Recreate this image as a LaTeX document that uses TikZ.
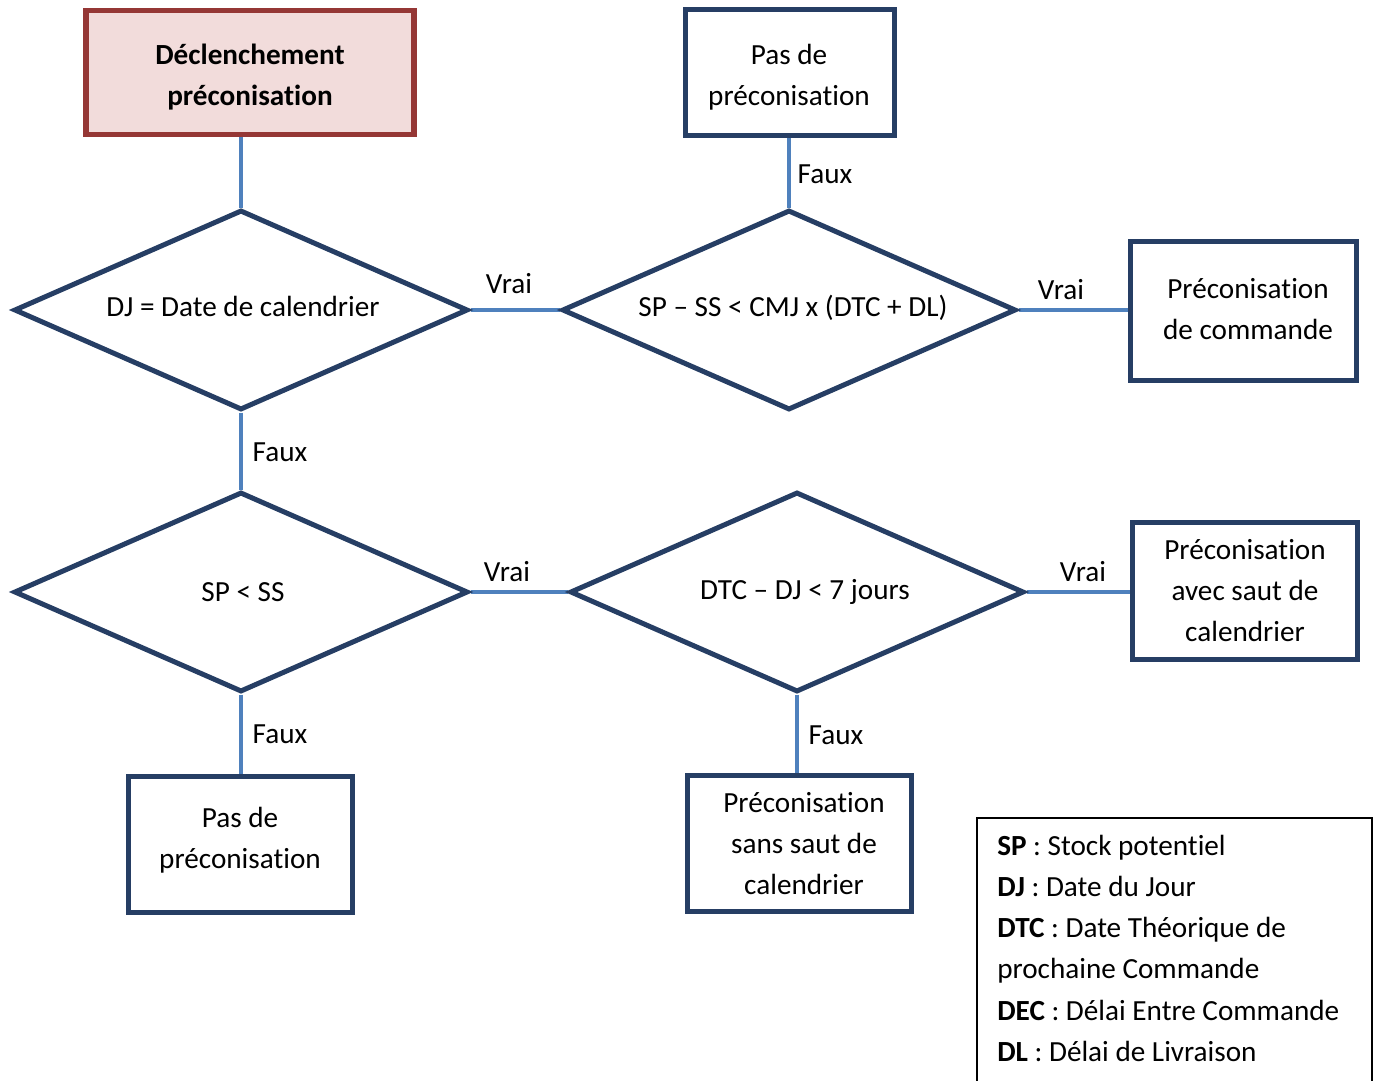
\documentclass[tikz,border=0pt]{standalone}
\usepackage{fontspec}
\setmainfont[Ligatures=NoCommon]{Carlito}
\usetikzlibrary{shapes.geometric,backgrounds}
\definecolor{navy}{RGB}{38,62,100}
\definecolor{linkblue}{RGB}{79,129,189}
\definecolor{startred}{RGB}{149,55,53}
\definecolor{startfill}{RGB}{242,220,219}
\tikzset{
  dims/.style 2 args={minimum width=#1*0.75pt, minimum height=#2*0.75pt},
  box/.style={rectangle, draw=navy, line width=3.75pt},
  startbox/.style={rectangle, draw=startred, fill=startfill, line width=3.9pt},
  decision/.style={diamond, draw=navy, line width=3.75pt, aspect=2.27},
  boxtext/.style={align=center},
  link/.style={draw=linkblue, line width=2.3pt},
  legendline/.style={anchor=base west}
}
\begin{document}
\begin{tikzpicture}[x=0.75pt, y=-0.75pt,
  every node/.append style={font=\fontsize{21.9}{30.75}\selectfont, inner sep=0pt}]
\useasboundingbox (0,0) rectangle (1378,1081);

% process boxes
\node[startbox, dims={328}{124}] (start) at (250,72.5) {};
\node[box, dims={209}{125}] (none1) at (789.5,72.5) {};
\node[box, dims={226}{139}] (order) at (1243,310.5) {};
\node[box, dims={225}{137}] (jump) at (1244.5,590.5) {};
\node[box, dims={224}{136}] (none2) at (240,844) {};
\node[box, dims={224}{136}] (nojump) at (799,843) {};

% decisions
\node[decision, dims={454}{200}] (d1) at (241,310) {};
\node[decision, dims={454}{200}] (d2) at (789,310) {};
\node[decision, dims={454}{200}] (d3) at (241,592) {};
\node[decision, dims={454}{200}] (d4) at (797,592) {};

% texts inside the shapes
\node[boxtext, font=\fontsize{21.9}{30.75}\selectfont\bfseries] (startT) at (250,77.5) {Déclenchement\\préconisation};
\node[boxtext] (none1T) at (789,77.5) {Pas de\\préconisation};
\node[boxtext] (orderT) at (1248,309) {Préconisation\\de commande};
\node[boxtext] (jumpT) at (1245,590.5) {Préconisation\\avec saut de\\calendrier};
\node[boxtext] (none2T) at (240,840.5) {Pas de\\préconisation};
\node[boxtext] (nojumpT) at (804,843.5) {Préconisation\\sans saut de\\calendrier};
\node (d1T) at (243,306) {DJ = Date de calendrier};
\node (d2T) at (793,308) {SP – SS < CMJ x (DTC + DL)};
\node (d3T) at (243,592) {SP < SS};
\node (d4T) at (805,591.5) {DTC – DJ < 7 jours};

% branch labels
\node (l1) at (509,284) {Vrai};
\node (l2) at (825,174) {Faux};
\node (l3) at (1061,290) {Vrai};
\node (l4) at (280,452) {Faux};
\node (l5) at (507,572) {Vrai};
\node (l6) at (1083,572) {Vrai};
\node (l7) at (280,734) {Faux};
\node (l8) at (836,735) {Faux};

% connectors
\begin{scope}[on background layer]
\draw[link] (d1.north |- start.south) -- (d1.north);
\draw[link] (d1.east) -- (d2.west);
\draw[link] (d2.north) -- (d2.north |- none1.south);
\draw[link] (d2.east) -- (d2.east -| order.west);
\draw[link] (d1.south) -- (d3.north);
\draw[link] (d3.east) -- (d4.west);
\draw[link] (d4.east) -- (d4.east -| jump.west);
\draw[link] (d3.south) -- (d3.south |- none2.north);
\draw[link] (d4.south) -- (d4.south |- nojump.north);
\end{scope}

% legend
\node[draw=black, line width=1.5pt, anchor=north west, dims={395}{300}] (legend) at (976,817) {};
\node[legendline] (k1) at (997,855) {\textbf{SP} : Stock potentiel};
\node[legendline] (k2) at (997,896.3) {\textbf{DJ} : Date du Jour};
\node[legendline] (k3) at (997,937.6) {\textbf{DTC} : Date Théorique de};
\node[legendline] (k4) at (997,978.9) {prochaine Commande};
\node[legendline] (k5) at (997,1020.2) {\textbf{DEC} : Délai Entre Commande};
\node[legendline] (k6) at (997,1061.5) {\textbf{DL} : Délai de Livraison};
\end{tikzpicture}
\end{document}
